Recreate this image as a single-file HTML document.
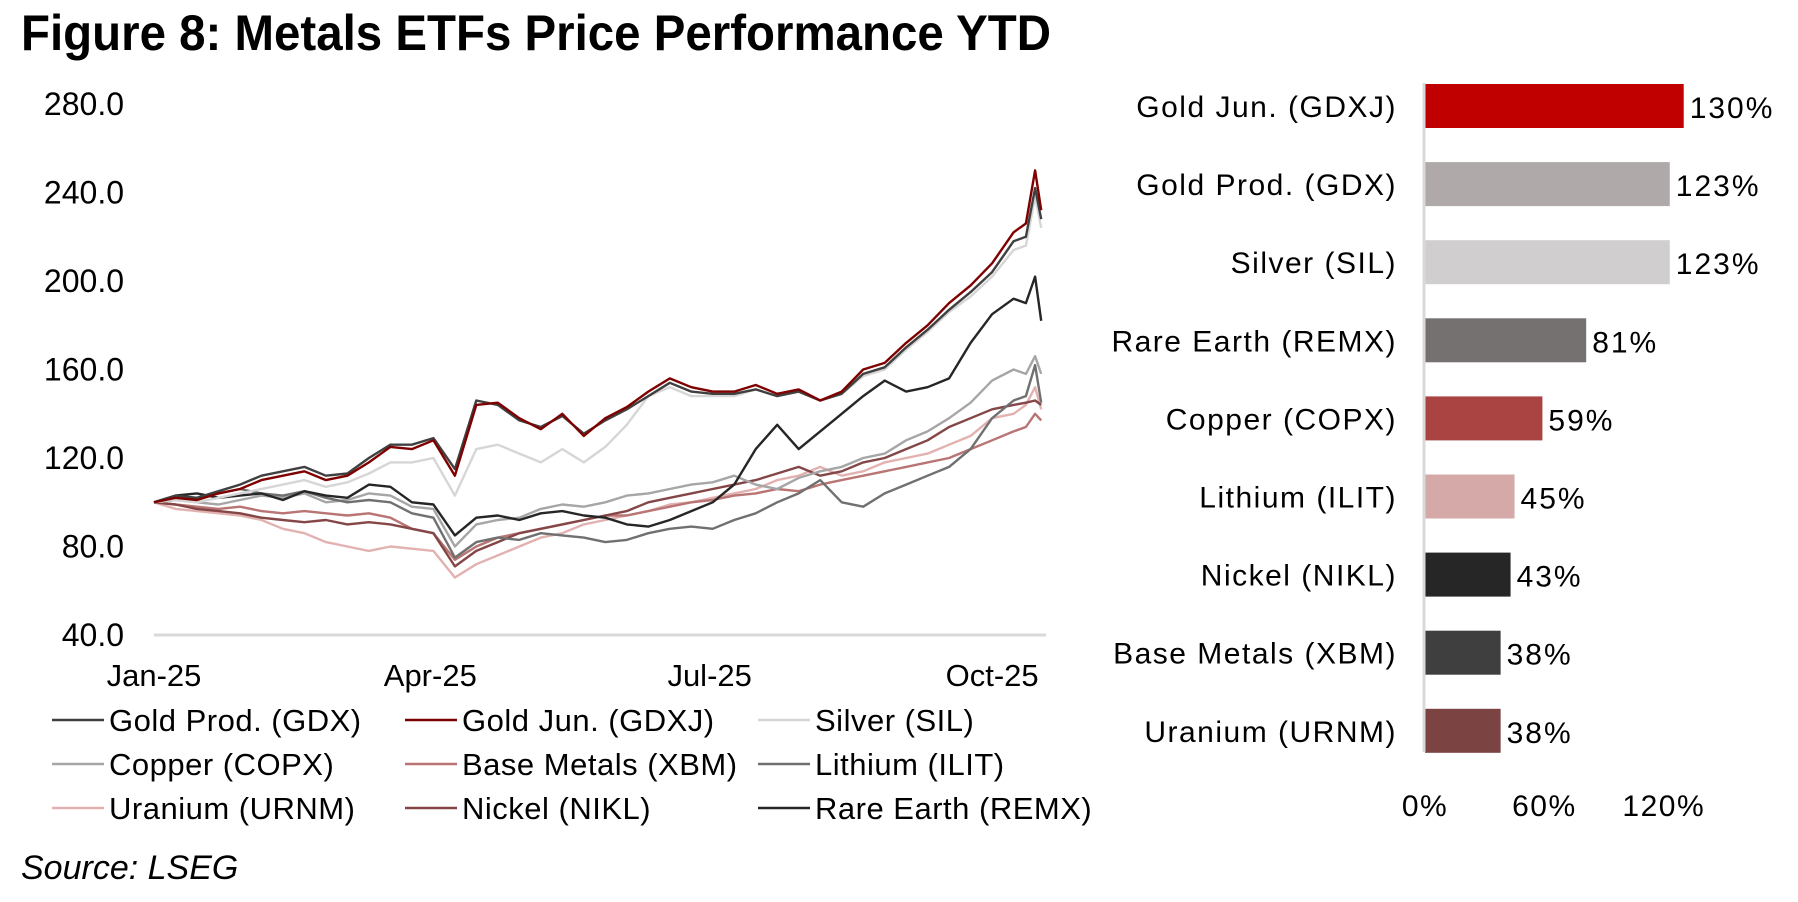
<!DOCTYPE html>
<html><head><meta charset="utf-8"><style>
html,body{margin:0;padding:0;background:#fff;}
svg{display:block;font-family:"Liberation Sans",Arial,sans-serif;}
</style></head><body>
<svg id="chart" width="1798" height="902" viewBox="0 0 1798 902" xmlns="http://www.w3.org/2000/svg">
<text x="21" y="50" font-size="50" font-weight="bold" fill="#000" textLength="1030" lengthAdjust="spacingAndGlyphs">Figure 8: Metals ETFs Price Performance YTD</text>
<g id="lineChart"></g>
<g id="barChart"></g>
<text x="21" y="879" font-size="34" font-style="italic" fill="#000">Source: LSEG</text>
</svg>
<script>
const NS='http://www.w3.org/2000/svg';
const days=[0,7,14,21,28,35,42,49,56,63,70,77,84,91,98,105,112,119,126,133,140,147,154,161,168,175,182,189,196,203,210,217,224,231,238,245,252,259,266,273,280,284,287,289];
const seriesNames=['Gold Prod. (GDX)','Gold Jun. (GDXJ)','Silver (SIL)','Copper (COPX)','Base Metals (XBM)','Lithium (ILIT)','Uranium (URNM)','Nickel (NIKL)','Rare Earth (REMX)'];
const gdx=[100,103,102,105,108,112,114,116,112,113,120,126,126,129,115,146,144,137,134,139,131,137,142,148,154,150,149,149,151,148,150,146,149,158,161,170,178,187,195,204,218,220,242,228];
const gdxj=[100,102,101,104,106,110,112,114,110,112,118,125,124,128,112,144,145,138,133,140,130,138,143,150,156,152,150,150,153,149,151,146,150,160,163,172,180,190,198,208,222,226,250,232];
const sil=[100,101,100,102,104,106,108,110,107,109,113,118,118,120,103,124,126,122,118,124,118,125,135,148,152,148,148,148,151,148,150,146,149,157,160,169,177,186,193,202,214,216,238,224];
const copx=[100,101,100,99,101,103,102,104,100,101,104,103,98,97,80,90,92,93,97,99,98,100,103,104,106,108,109,112,108,106,111,114,116,120,122,128,132,138,145,155,160,158,166,158];
const xbm=[100,99,98,97,98,96,95,96,95,94,95,93,88,86,74,80,84,86,88,90,92,94,94,96,98,100,101,103,104,106,105,108,110,112,114,116,118,120,124,128,132,134,140,137];
const ilit=[100,101,102,104,106,104,103,105,102,100,101,100,95,93,75,82,84,83,86,85,84,82,83,86,88,89,88,92,95,100,104,110,100,98,104,108,112,116,124,138,146,148,162,145];
const urnm=[100,97,96,95,94,92,88,86,82,80,78,80,79,78,66,72,76,80,84,86,90,92,94,96,99,100,102,104,106,110,112,116,112,114,118,120,122,126,130,138,140,144,152,142];
const nikl=[100,99,97,96,95,93,92,91,92,90,91,90,88,86,71,78,82,86,88,90,92,94,96,100,102,104,106,108,110,113,116,112,114,118,120,124,128,134,138,142,144,145,146,144];
const remx=[100,103,104,102,103,104,101,105,103,102,108,107,100,99,85,93,94,92,95,96,94,93,90,89,92,96,100,108,124,135,124,132,140,148,155,150,152,156,172,185,192,190,202,182];
const yTicks=[40,80,120,160,200,240,280];
const yTickLabels=['40.0','80.0','120.0','160.0','200.0','240.0','280.0'];
const xTickDays=[0,90,181,273];
const xTickLabels=['Jan-25','Apr-25','Jul-25','Oct-25'];

const barCats=['Gold Jun. (GDXJ)','Gold Prod. (GDX)','Silver (SIL)','Rare Earth (REMX)','Copper (COPX)','Lithium (ILIT)','Nickel (NIKL)','Base Metals (XBM)','Uranium (URNM)'];
const barVals=[130,123,123,81,59,45,43,38,38];
const barLabels=['130%','123%','123%','81%','59%','45%','43%','38%','38%'];
const barTicks=[0,60,120];
const barTickLabels=['0%','60%','120%'];

const lineStyles=[['#404040'],['#7f0000'],['#d6d6d6'],['#a6a6a6'],['#b97474'],['#707070'],['#e2b2b1'],['#844646'],['#262626']];
const barColors=['#c00000','#afaaa9','#d0cece','#767171','#aa4443','#d6a9a9','#262626','#3f3f3f','#7b4342'];

function mk(tag,attrs,parent){const e=document.createElementNS(NS,tag);for(const k in attrs)e.setAttribute(k,attrs[k]);parent.appendChild(e);return e;}
const lc=document.getElementById('lineChart');
const bc=document.getElementById('barChart');
const X=d=>154+d*3.07;
const Y=v=>635-(v-40)*(635-104)/240;

yTicks.forEach((t,i)=>{
  const tx=mk('text',{x:124,y:Y(t)+11,'font-size':32,'text-anchor':'end',fill:'#000'},lc);
  tx.textContent=yTickLabels[i];
  
  
});
const ax=mk('line',{x1:154,x2:1046,y1:Y(40),y2:Y(40),stroke:'#d9d9d9','stroke-width':3},lc);


xTickDays.forEach((d,i)=>{
  const tx=mk('text',{x:X(d),y:686,'font-size':31,'text-anchor':'middle',fill:'#000'},lc);
  tx.textContent=xTickLabels[i];
  
  
});
const allSeries=[gdx,gdxj,sil,copx,xbm,ilit,urnm,nikl,remx];
const drawOrder=[6,4,7,3,5,8,2,0,1];
const seriesKeys=['gdx','gdxj','sil','copx','xbm','ilit','urnm','nikl','remx'];
drawOrder.forEach(i=>{
  const s=allSeries[i];
  const d=s.map((v,j)=>(j?'L':'M')+X(days[j]).toFixed(1)+','+Y(v).toFixed(1)).join(' ');
  const p=mk('path',{d:d,fill:'none',stroke:lineStyles[i][0],'stroke-width':2.4,'stroke-linejoin':'round'},lc);
  
  
});
// legend
const colX=[52,405,758], rowY=[720,764,808];
seriesNames.forEach((n,i)=>{
  const cx=colX[i%3], cy=rowY[Math.floor(i/3)];
  const g=mk('g',{},lc);
  
  
  mk('line',{x1:cx,x2:cx+52,y1:cy,y2:cy,stroke:lineStyles[i][0],'stroke-width':2.5},g);
  const t=mk('text',{x:cx+57,y:cy+11,'font-size':31,fill:'#000','letter-spacing':0.5},g);
  t.textContent=n;
});
// bar chart
const BX=v=>1425+v*1.99;
const barY0=106, barStep=78.1, barH=44;
barCats.forEach((c,i)=>{
  const cy=barY0+i*barStep;
  const r=mk('rect',{x:BX(0),y:cy-barH/2,width:BX(barVals[i])-BX(0),height:barH,fill:barColors[i]},bc);
  
  
  const lab=mk('text',{x:1397,y:cy+11,'font-size':30,'text-anchor':'end',fill:'#000','letter-spacing':1.5},bc);
  lab.textContent=c;
  
  
  const vl=mk('text',{x:BX(barVals[i])+6,y:cy+12,'font-size':30,fill:'#000','letter-spacing':2},bc);
  vl.textContent=barLabels[i];
  
  
});
const bax=mk('line',{x1:1424,x2:1424,y1:83,y2:752,stroke:'#d9d9d9','stroke-width':3},bc);


barTicks.forEach((t,i)=>{
  const tx=mk('text',{x:BX(t),y:816,'font-size':30,'text-anchor':'middle',fill:'#000','letter-spacing':1.5},bc);
  tx.textContent=barTickLabels[i];
  
  
});
</script>
</body></html>
